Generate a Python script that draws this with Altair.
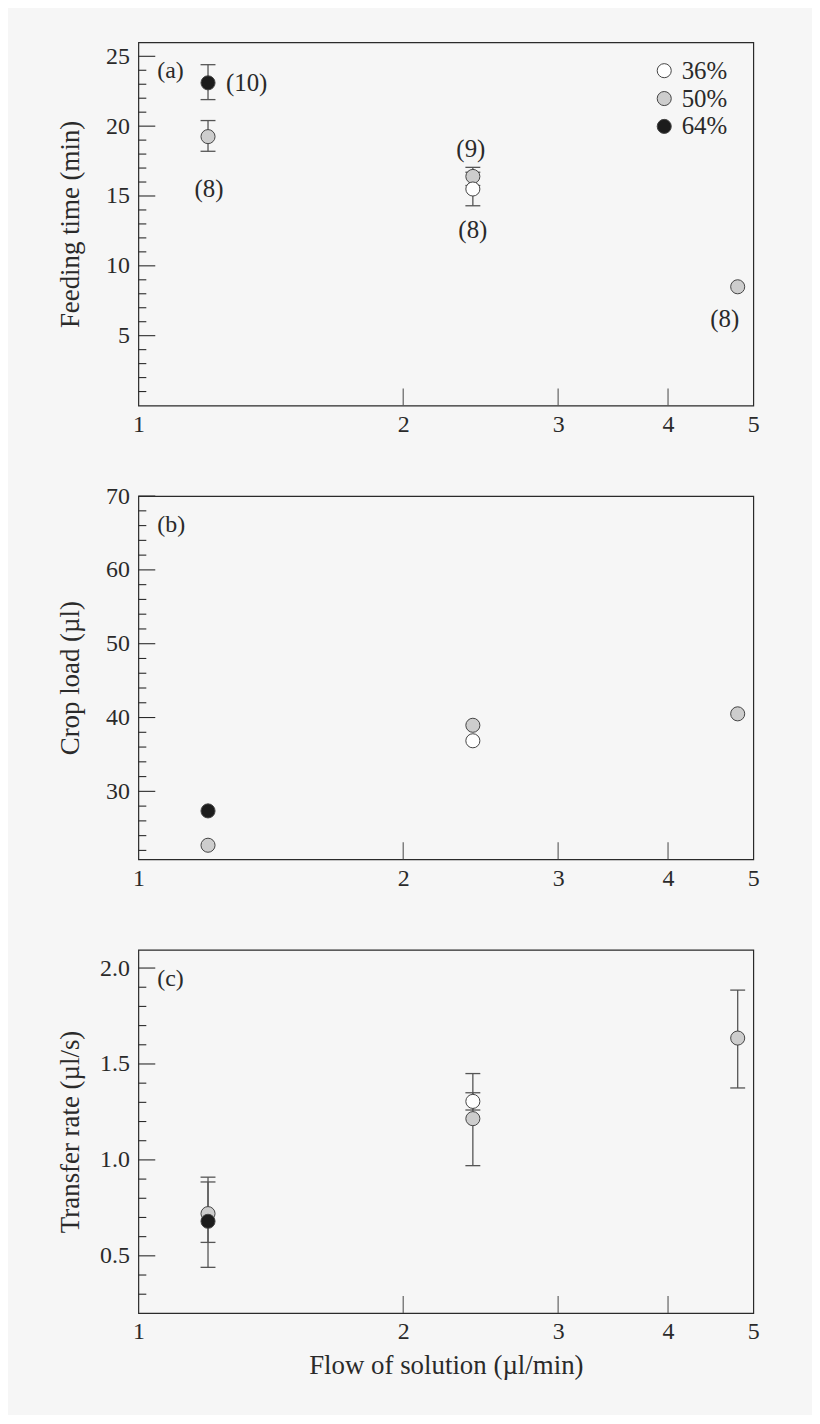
import altair as alt
import pandas as pd

# ---------------- data ----------------
flow = [1.2, 2.4, 4.8, 2.4, 1.2]
conc = ["50%", "50%", "50%", "36%", "64%"]
pid = ["g12", "g24", "g48", "w24", "b12"]

feed = [19.25, 16.4, 8.5, 15.5, 23.1]
feed_lo = [18.2, 15.75, None, 14.3, 21.9]
feed_hi = [20.4, 17.05, None, 16.7, 24.4]
feed_n = ["(8)", "(9)", "(8)", "(8)", "(10)"]

crop = [22.7, 38.95, 40.5, 36.85, 27.35]

rate = [0.72, 1.215, 1.635, 1.305, 0.68]
rate_lo = [0.57, 0.97, 1.375, 1.26, 0.44]
rate_hi = [0.91, 1.45, 1.885, 1.35, 0.885]

conc_levels = ["36%", "50%", "64%"]
conc_fills = ["#ffffff", "#cdcdcd", "#1c1c1c"]

x_labels = [1, 2, 3, 4, 5]
x_inner_ticks = [2, 3, 4]

feed_major = [5, 10, 15, 20, 25]
feed_minor = [1, 2, 3, 4, 6, 7, 8, 9, 11, 12, 13, 14, 16, 17, 18, 19, 21, 22, 23, 24]
crop_major = [30, 40, 50, 60, 70]
crop_minor = [22, 24, 26, 28, 32, 34, 36, 38, 42, 44, 46, 48, 52, 54, 56, 58, 62, 64, 66, 68]
rate_major = [0.5, 1.0, 1.5, 2.0]
rate_minor = [0.3, 0.4, 0.6, 0.7, 0.8, 0.9, 1.1, 1.2, 1.3, 1.4, 1.6, 1.7, 1.8, 1.9]

FONT = "Liberation Serif"
INK = "#2a2a2a"
BG = "#f6f6f6"
W, H = 618, 365

df = pd.DataFrame({
    "flow": flow, "conc": conc, "id": pid,
    "feed": feed, "feed_lo": feed_lo, "feed_hi": feed_hi, "n": feed_n,
    "crop": crop,
    "rate": rate, "rate_lo": rate_lo, "rate_hi": rate_hi,
})


def panel(ycol, ydomain, ytitle, major, minor, tag, yfmt, lo=None, hi=None,
          legend=False, xtitle=""):
    xs = alt.Scale(type="log", domain=[1, 5], nice=False)
    ys = alt.Scale(domain=ydomain, nice=False, zero=False)
    xaxis = alt.Axis(values=x_labels, format="d", ticks=False,
                     domain=False, grid=False, labelPadding=7,
                     labelFlush=False, labelOverlap=False,
                     labelFont=FONT, labelFontSize=24, labelColor=INK,
                     title=xtitle, titleFont=FONT, titleFontSize=27,
                     titleFontWeight="normal", titleColor=INK, titlePadding=9)
    yaxis = alt.Axis(values=major, format=yfmt,
                     ticks=False, domain=False, grid=False,
                     labelPadding=9, labelFont=FONT, labelFontSize=24,
                     labelColor=INK, labelFlush=False, labelOverlap=False,
                     title=ytitle, titleFont=FONT, titleFontSize=27,
                     titleFontWeight="normal", titleColor=INK,
                     titleX=-54, titleBaseline="bottom")

    def X(f):
        return alt.X(f, scale=xs, axis=xaxis)

    def Y(f):
        return alt.Y(f, scale=ys, axis=yaxis)

    base = alt.Chart(df)
    layers = []

    # inward y ticks
    layers.append(alt.Chart(pd.DataFrame({"v": major})).mark_rule(
        color=INK, strokeWidth=1.1).encode(
        y=Y("v:Q"), x=alt.value(0), x2=alt.value(17)))
    layers.append(alt.Chart(pd.DataFrame({"v": minor})).mark_rule(
        color=INK, strokeWidth=1.1).encode(
        y=Y("v:Q"), x=alt.value(0), x2=alt.value(8)))
    # inward x ticks
    layers.append(alt.Chart(pd.DataFrame({"v": x_inner_ticks})).mark_rule(
        color="#555", strokeWidth=1.1).encode(
        x=X("v:Q"), y=alt.value(H), y2=alt.value(H - 17)))

    if lo is not None:
        eb = base.transform_filter(f"isValid(datum.{lo})")
        layers.append(eb.mark_rule(color="#555", strokeWidth=1.3).encode(
            x=X("flow:Q"), y=Y(f"{lo}:Q"), y2=f"{hi}:Q"))
        for c in (lo, hi):
            layers.append(eb.mark_tick(orient="horizontal", size=15, thickness=1.3,
                                       color="#555", opacity=1).encode(
                x=X("flow:Q"), y=Y(f"{c}:Q")))

    fill_kw = dict(scale=alt.Scale(domain=conc_levels, range=conc_fills))
    if legend:
        fill_kw["legend"] = alt.Legend(
            orient="none", legendX=516, legendY=16, title=None,
            symbolType="circle", symbolSize=200,
            symbolStrokeColor="#444", symbolStrokeWidth=1,
            symbolOpacity=1, labelFont=FONT, labelFontSize=25,
            labelColor=INK, labelOffset=5, rowPadding=2, padding=0)
    else:
        fill_kw["legend"] = None
    layers.append(base.mark_circle(size=200, opacity=1, stroke="#444",
                                   strokeWidth=1).encode(
        x=X("flow:Q"), y=Y(f"{ycol}:Q"), fill=alt.Fill("conc:N", **fill_kw)))

    layers.append(alt.Chart(alt.Data(values=[{"t": tag}])).mark_text(
        font=FONT, fontSize=24, color=INK, align="left", baseline="middle").encode(
        x=alt.value(19), y=alt.value(29), text="t:N"))

    return layers, X, Y, base


la, Xa, Ya, base_a = panel("feed", [0, 26], "Feeding time (min)", feed_major, feed_minor,
                           "(a)", "d", lo="feed_lo", hi="feed_hi", legend=True)
for key, dx, dy, align in [("b12", 18, 0, "left"), ("g12", 1, 53, "center"),
                           ("g24", -2, -28, "center"), ("w24", 0, 41, "center"),
                           ("g48", -13, 32, "center")]:
    la.append(base_a.transform_filter(f"datum.id == '{key}'").mark_text(
        font=FONT, fontSize=25, color=INK, dx=dx, dy=dy, align=align,
        baseline="middle").encode(x=Xa("flow:Q"), y=Ya("feed:Q"), text="n:N"))
pa = alt.layer(*la).properties(width=W, height=H)

lb, _, _, _ = panel("crop", [20.8, 70], "Crop load (µl)", crop_major, crop_minor, "(b)", "d")
pb = alt.layer(*lb).properties(width=W, height=H)

lc, _, _, _ = panel("rate", [0.202, 2.095], "Transfer rate (µl/s)", rate_major, rate_minor,
                    "(c)", ".1f", lo="rate_lo", hi="rate_hi",
                    xtitle="Flow of solution (µl/min)")
pc = alt.layer(*lc).properties(width=W, height=H)

chart = alt.vconcat(pa, pb, pc, spacing=91, bounds="flush").resolve_scale(
    fill="independent").resolve_legend(fill="independent").properties(
    padding={"left": 48, "top": 30, "right": 52, "bottom": 32},
    background=BG,
).configure_view(stroke=INK, strokeWidth=1.2)

chart.save("out.html", embed_options={"renderer": "svg", "actions": False})
